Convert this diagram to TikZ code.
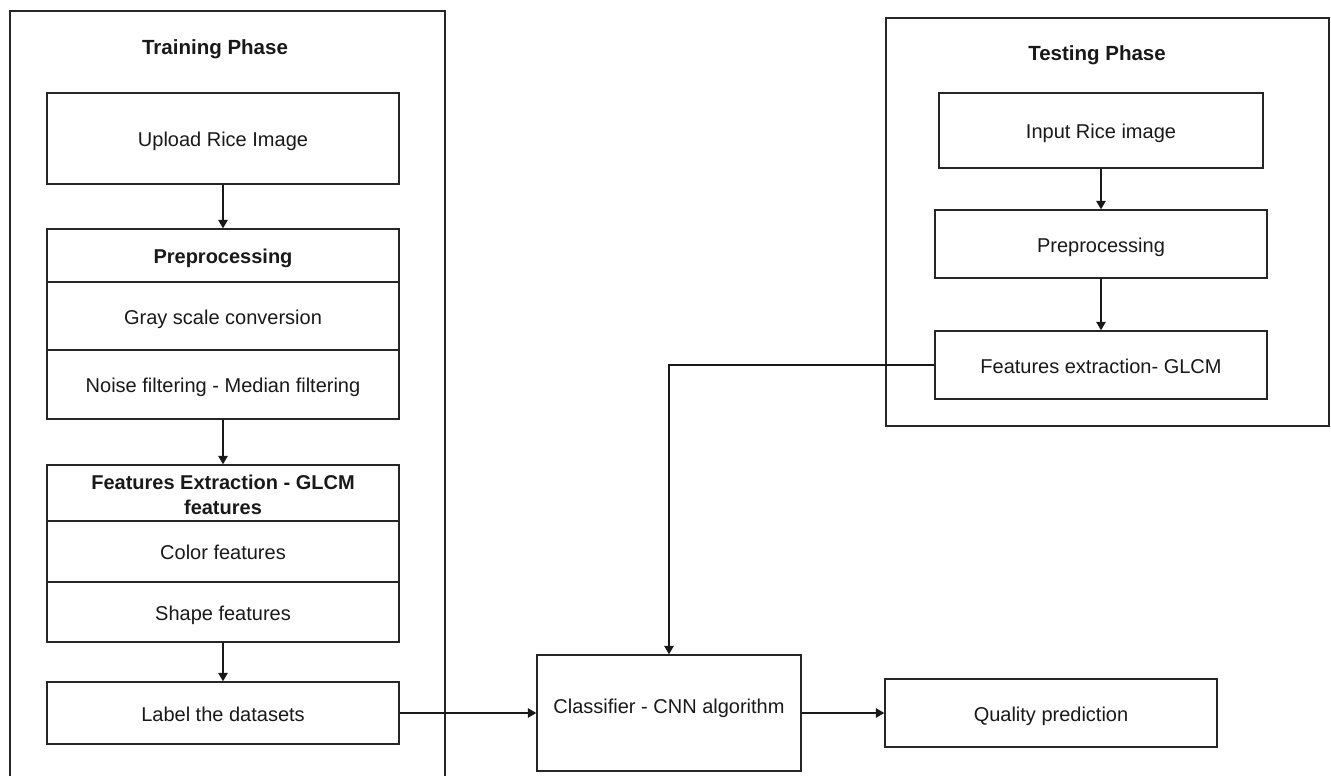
\documentclass[tikz,border=0pt]{standalone}
\usepackage{fontspec}
\setmainfont{Liberation Sans}
\usetikzlibrary{arrows.meta}
\begin{document}
\begin{tikzpicture}[x=1pt,y=-1pt,
  box/.style={draw=black!85, line width=1.4pt, rectangle, inner sep=0pt, align=center,
    text=black!90, text height=18pt, text depth=2pt, font=\fontsize{20}{25}\selectfont},
  hdr/.style={box, font=\fontsize{20}{25}\selectfont\bfseries},
  hdrtwo/.style={draw=black!85, line width=1.4pt, rectangle, inner sep=0pt, align=center,
    text=black!90, font=\fontsize{20}{25}\selectfont\bfseries},
  ttl/.style={inner sep=0pt, text=black!90, text height=18pt, text depth=2pt,
    font=\fontsize{20.5}{25}\selectfont\bfseries},
  lbl/.style={inner sep=0pt, text=black!90, text height=18pt, text depth=2pt,
    font=\fontsize{20}{25}\selectfont},
  arr/.style={draw=black!90, line width=1.4pt, -{Triangle[length=8.5pt,width=9.5pt]}},
  frame/.style={draw=black!85, line width=1.4pt}]
\useasboundingbox (0,0) rectangle (1331,776);
\fill[white] (0,0) rectangle (1331,776);

% Training phase frame (open at the bottom, runs off the page)
\draw[frame] (10,790) -- (10,11) -- (445,11) -- (445,790);
\node[ttl] (ttr) at (215,47) {Training Phase};

\node[box, minimum width=352, minimum height=91] (up) at (223,138.5) {Upload Rice Image};
\node[hdr, minimum width=352, minimum height=53] (preh) at (223,255.5) {Preprocessing};
\node[box, minimum width=352, minimum height=68] (gray) at (223,316) {Gray scale conversion};
\node[box, minimum width=352, minimum height=69] (noise) at (223,384.5) {Noise filtering - Median filtering};
\node[hdrtwo, minimum width=352, minimum height=56] (feh) at (223,493) {};
\node[lbl, font=\fontsize{20}{25}\selectfont\bfseries] (feht1) at (223,481) {Features Extraction - GLCM};
\node[lbl, font=\fontsize{20}{25}\selectfont\bfseries] (feht2) at (223,506) {features};
\node[box, minimum width=352, minimum height=61] (color) at (223,551.5) {Color features};
\node[box, minimum width=352, minimum height=60] (shape) at (223,612) {Shape features};
\node[box, minimum width=352, minimum height=62] (lab) at (223,713) {Label the datasets};

\draw[arr] (up.south) -- (preh.north);
\draw[arr] (noise.south) -- (feh.north);
\draw[arr] (shape.south) -- (lab.north);

% Testing phase frame
\node[frame, rectangle, inner sep=0pt, minimum width=443, minimum height=408] (tframe) at (1107.5,222) {};
\node[ttl] (tts) at (1097,53) {Testing Phase};

\node[box, minimum width=324, minimum height=75] (inp) at (1101,130.5) {Input Rice image};
\node[box, minimum width=332, minimum height=68] (tpre) at (1101,244) {Preprocessing};
\node[box, minimum width=332, minimum height=68] (tfe) at (1101,365) {Features extraction- GLCM};

\draw[arr] (inp.south) -- (tpre.north);
\draw[arr] (tpre.south) -- (tfe.north);

% Classifier and output
\node[box, minimum width=264, minimum height=116] (cls) at (669,713) {};
\node[lbl] (clst) at (669,705) {Classifier - CNN algorithm};
\node[box, minimum width=332, minimum height=68] (qp) at (1051,713) {Quality prediction};

\draw[arr] (lab.east) -- (lab.east -| cls.west);
\draw[arr] (tfe.west) -| (cls.north);
\draw[arr] (cls.east) -- (cls.east -| qp.west);
\end{tikzpicture}
\end{document}
